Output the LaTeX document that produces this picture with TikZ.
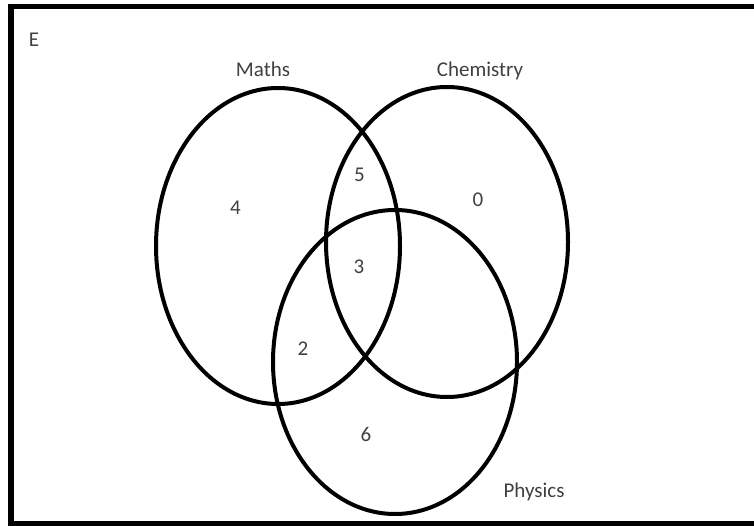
\documentclass[tikz,border=0pt]{standalone}
\usepackage{fontspec}
\setmainfont{Carlito}
\begin{document}
\begin{tikzpicture}[x=1pt,y=-1pt,
  venn/.style={draw=black,line width=4pt},
  lbl/.style={text=black!75,font=\fontsize{21}{24}\selectfont,anchor=base,inner sep=0pt}]
\useasboundingbox (0,0) rectangle (754,526);
\begin{scope}
\clip (0,0) rectangle (754,526);
\draw[line width=5.5pt] (11,6.5) rectangle (770,524);
\end{scope}
\draw[venn] (278,246) ellipse [x radius=122, y radius=158];
\draw[venn] (447,242) ellipse [x radius=121, y radius=155];
\draw[venn] (395,362) ellipse [x radius=122, y radius=152];
\node[lbl] (e) at (34,47) {E};
\node[lbl] (m) at (263,77) {Maths};
\node[lbl] (c) at (480,77) {Chemistry};
\node[lbl] (p) at (534,497) {Physics};
\node[lbl] (n4) at (235.5,215) {4};
\node[lbl] (n5) at (359.5,182) {5};
\node[lbl] (n0) at (478,207) {0};
\node[lbl] (n3) at (359,273) {3};
\node[lbl] (n2) at (303,355) {2};
\node[lbl] (n6) at (366,441) {6};
\end{tikzpicture}
\end{document}
